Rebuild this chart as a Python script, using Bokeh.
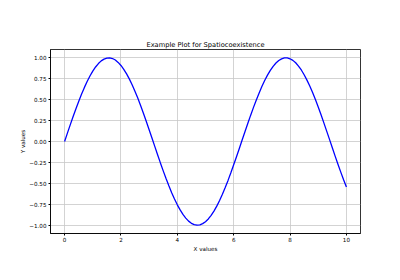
from bokeh.plotting import figure
from bokeh.models import FixedTicker, CustomJSTickFormatter, Range1d
from bokeh.embed import file_html
from bokeh.resources import INLINE

x_values = [0.0, 0.1, 0.2, 0.3, 0.4, 0.5, 0.6, 0.7, 0.8, 0.9,
            1.0, 1.1, 1.2, 1.3, 1.4, 1.5, 1.6, 1.7, 1.8, 1.9,
            2.0, 2.1, 2.2, 2.3, 2.4, 2.5, 2.6, 2.7, 2.8, 2.9,
            3.0, 3.1, 3.2, 3.3, 3.4, 3.5, 3.6, 3.7, 3.8, 3.9,
            4.0, 4.1, 4.2, 4.3, 4.4, 4.5, 4.6, 4.7, 4.8, 4.9,
            5.0, 5.1, 5.2, 5.3, 5.4, 5.5, 5.6, 5.7, 5.8, 5.9,
            6.0, 6.1, 6.2, 6.3, 6.4, 6.5, 6.6, 6.7, 6.8, 6.9,
            7.0, 7.1, 7.2, 7.3, 7.4, 7.5, 7.6, 7.7, 7.8, 7.9,
            8.0, 8.1, 8.2, 8.3, 8.4, 8.5, 8.6, 8.7, 8.8, 8.9,
            9.0, 9.1, 9.2, 9.3, 9.4, 9.5, 9.6, 9.7, 9.8, 9.9,
            10.0]
y_values = [0.000, 0.100, 0.199, 0.296, 0.389, 0.479, 0.565, 0.644, 0.717, 0.783,
            0.841, 0.891, 0.932, 0.964, 0.985, 0.997, 1.000, 0.992, 0.974, 0.946,
            0.909, 0.863, 0.808, 0.746, 0.675, 0.598, 0.516, 0.427, 0.335, 0.239,
            0.141, 0.042, -0.058, -0.158, -0.256, -0.351, -0.443, -0.530, -0.612, -0.688,
            -0.757, -0.818, -0.872, -0.916, -0.952, -0.978, -0.994, -1.000, -0.996, -0.982,
            -0.959, -0.926, -0.883, -0.832, -0.773, -0.706, -0.631, -0.551, -0.465, -0.374,
            -0.279, -0.182, -0.083, 0.017, 0.117, 0.215, 0.312, 0.405, 0.494, 0.578,
            0.657, 0.729, 0.794, 0.850, 0.899, 0.938, 0.968, 0.988, 0.999, 0.999,
            0.989, 0.970, 0.941, 0.902, 0.855, 0.798, 0.734, 0.663, 0.585, 0.501,
            0.412, 0.319, 0.223, 0.124, 0.025, -0.075, -0.175, -0.272, -0.366, -0.458,
            -0.544]
x_ticks = [0, 2, 4, 6, 8, 10]
y_ticks = [-1.0, -0.75, -0.5, -0.25, 0.0, 0.25, 0.5, 0.75, 1.0]

FONT = "DejaVu Sans"

p = figure(width=400, height=280, output_backend="svg", toolbar_location=None,
           x_range=Range1d(-0.5, 10.5), y_range=Range1d(-1.1, 1.1),
           title="Example Plot for Spatiocoexistence",
           min_border_left=50, min_border_right=40, min_border_top=49, min_border_bottom=47)

p.line(x_values, y_values, line_color="#0000ff", line_width=1.3)

p.title.align = "center"
p.title.text_font = FONT
p.title.text_font_size = "6.7px"
p.title.text_font_style = "normal"
p.title.text_color = "#000000"
p.title.standoff = 2

p.outline_line_color = "#000000"
p.outline_line_width = 0.8
p.background_fill_color = "white"
p.border_fill_color = "white"

for ax in (p.xaxis[0], p.yaxis[0]):
    ax.axis_line_color = "#000000"
    ax.axis_line_width = 0.8
    ax.major_tick_line_color = "#000000"
    ax.major_tick_out = 2
    ax.major_tick_in = 0
    ax.minor_tick_line_color = None
    ax.major_label_text_font = FONT
    ax.major_label_text_font_size = "5.6px"
    ax.major_label_text_color = "#000000"
    ax.axis_label_text_font = FONT
    ax.axis_label_text_font_size = "5.6px"
    ax.axis_label_text_font_style = "normal"
    ax.axis_label_text_color = "#000000"

p.xaxis[0].major_label_standoff = 1
p.yaxis[0].major_label_standoff = 2
p.xaxis[0].ticker = FixedTicker(ticks=x_ticks)
p.yaxis[0].ticker = FixedTicker(ticks=y_ticks)
p.yaxis[0].formatter = CustomJSTickFormatter(
    code="return (tick < 0 ? '\\u2212' : '') + Math.abs(tick).toFixed(2);")
p.xaxis[0].axis_label = "X values"
p.yaxis[0].axis_label = "Y values"
p.xaxis[0].axis_label_standoff = 1
p.yaxis[0].axis_label_standoff = 0

p.grid.grid_line_color = "#c8c8c8"
p.grid.grid_line_width = 0.8

open("out.html", "w").write(file_html(p, INLINE))
